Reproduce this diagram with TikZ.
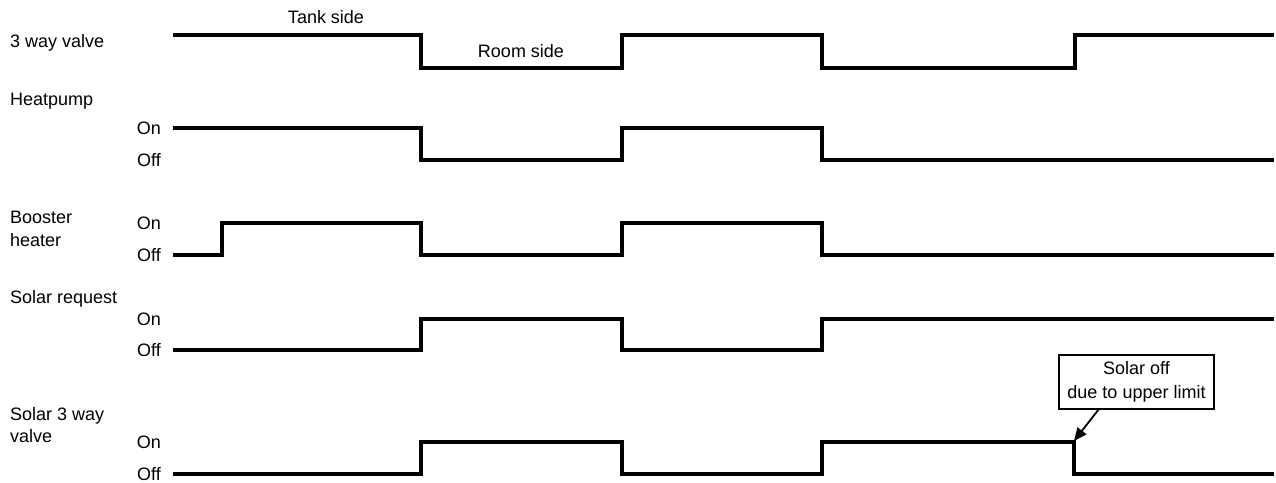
\documentclass[tikz,border=0pt]{standalone}
\usepackage{fontspec}
\setmainfont{Liberation Sans}
\usetikzlibrary{arrows.meta}
\begin{document}
\begin{tikzpicture}[x=1pt,y=-1pt,
  wave/.style={line width=3.8pt,line join=miter,line cap=butt},
  lbl/.style={inner sep=0pt,anchor=base west,font=\fontsize{18}{21}\selectfont},
  lvl/.style={inner sep=0pt,anchor=east,font=\fontsize{18}{21}\selectfont},
  statetext/.style={inner sep=0pt,anchor=base,font=\fontsize{18}{21}\selectfont},
  callout/.style={draw,line width=1.1pt,minimum width=155pt,minimum height=54pt,inner sep=2pt,align=center,font=\fontsize{18}{24}\selectfont},
  pointer/.style={line width=1.8pt,-{Triangle[length=13pt,width=11pt]}}]
\useasboundingbox (0,0) rectangle (1276,482);
% row labels
\node[lbl] (l1) at (10,47) {3 way valve};
\node[lbl] (l2) at (10,105) {Heatpump};
\node[lbl] (l3a) at (10,223) {Booster};
\node[lbl] (l3b) at (10,246) {heater};
\node[lbl] (l4) at (10,303) {Solar request};
\node[lbl] (l5a) at (10,420) {Solar 3 way};
\node[lbl] (l5b) at (10,442) {valve};
% state labels
\node[statetext] (tank) at (326,23) {Tank side};
\node[statetext] (room) at (521,57) {Room side};
\node[lvl] (on2) at (161,128) {On};
\node[lvl] (off2) at (161,160) {Off};
\node[lvl] (on3) at (161,223) {On};
\node[lvl] (off3) at (161,255) {Off};
\node[lvl] (on4) at (161,319) {On};
\node[lvl] (off4) at (161,350) {Off};
\node[lvl] (on5) at (161,442) {On};
\node[lvl] (off5) at (161,474) {Off};
% waveforms
\draw[wave] (173,35) -- (421,35) -- (421,68) -- (622,68) -- (622,35) -- (822,35) -- (822,68) -- (1075,68) -- (1075,35) -- (1274,35);
\draw[wave] (173,128) -- (421,128) -- (421,160) -- (622,160) -- (622,128) -- (822,128) -- (822,160) -- (1274,160);
\draw[wave] (173,255) -- (222,255) -- (222,223) -- (421,223) -- (421,255) -- (622,255) -- (622,223) -- (822,223) -- (822,255) -- (1274,255);
\draw[wave] (173,350) -- (421,350) -- (421,319) -- (622,319) -- (622,350) -- (822,350) -- (822,319) -- (1274,319);
\draw[wave] (173,474) -- (421,474) -- (421,442) -- (622,442) -- (622,474) -- (822,474) -- (822,442) -- (1074,442) -- (1074,474) -- (1274,474);
% callout
\node[callout] (note) at (1136.5,382) {Solar off\\due to upper limit};
\coordinate (tip) at (1074,441);
\draw[pointer] ([xshift=-38pt]note.south) -- (tip);
\end{tikzpicture}
\end{document}
